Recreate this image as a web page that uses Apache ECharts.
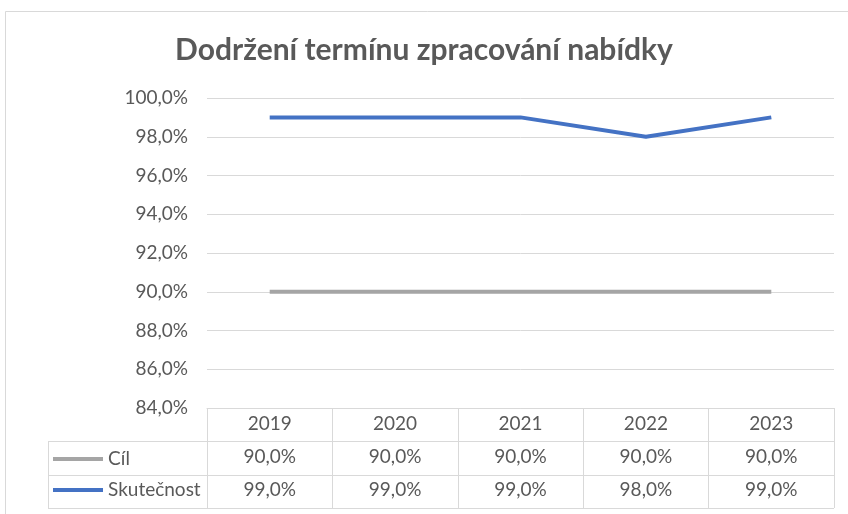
<!DOCTYPE html>
<html>
<head>
<meta charset="utf-8">
<script src="https://cdn.jsdelivr.net/npm/echarts@6/dist/echarts.min.js"></script>
<style>
  html, body { margin: 0; padding: 0; background: #fff; }
  #chart { width: 848px; height: 514px; }
</style>
</head>
<body>
<div id="chart"></div>
<script>
const years = ['2019', '2020', '2021', '2022', '2023'];
const cil = [90, 90, 90, 90, 90];
const skutecnost = [99, 99, 99, 98, 99];
const seriesNames = ['Cíl', 'Skutečnost'];
const seriesColors = ['#A5A5A5', '#4472C4'];

const FONT = 'Lato, "Noto Sans", sans-serif';
const TXT = '#595959';
const LINE = '#D9D9D9';

const fmt = v => v.toFixed(1).replace('.', ',') + '%';

const chart = echarts.init(document.getElementById('chart'));

chart.setOption({
  backgroundColor: '#fff',
  animation: false,
  title: {
    text: 'Dodržení termínu zpracování nabídky',
    left: 'center',
    top: 30,
    textStyle: { color: TXT, fontSize: 30, fontWeight: 'bold', fontFamily: FONT }
  },
  legend: {
    orient: 'vertical',
    left: 53,
    top: 449,
    padding: 0,
    itemWidth: 50,
    itemHeight: 4,
    itemGap: 11,
    icon: 'rect',
    data: seriesNames,
    textStyle: { color: TXT, fontSize: 19, fontFamily: FONT, lineHeight: 20 }
  },
  grid: { left: 207, right: 14, top: 98, bottom: 106 },
  xAxis: {
    type: 'category',
    data: years,
    boundaryGap: true,
    axisLine: { show: true, lineStyle: { color: LINE, width: 1 } },
    axisTick: { show: true, interval: 0, length: 100, lineStyle: { color: LINE } },
    axisLabel: {
      interval: 0,
      margin: 0,
      formatter: (val, i) => `{y|${val}}\n{v|${fmt(cil[i])}}\n{v|${fmt(skutecnost[i])}}`,
      rich: {
        y: { color: TXT, fontSize: 19, fontFamily: FONT, lineHeight: 32 },
        v: { color: TXT, fontSize: 19, fontFamily: FONT, lineHeight: 33 }
      }
    }
  },
  yAxis: {
    type: 'value',
    min: 84,
    max: 100,
    interval: 2,
    axisLine: { show: false },
    axisTick: { show: false },
    axisLabel: { color: TXT, fontSize: 19, fontFamily: FONT, margin: 19, formatter: v => fmt(v) },
    splitLine: { lineStyle: { color: LINE, width: 1 } }
  },
  graphic: [
    { type: 'rect', shape: { x: 5.5, y: 11.5, width: 900, height: 600 }, style: { fill: 'none', stroke: LINE, lineWidth: 1 }, silent: true },
    { type: 'line', shape: { x1: 48, y1: 441.5, x2: 834, y2: 441.5 }, style: { stroke: LINE, lineWidth: 1 } },
    { type: 'line', shape: { x1: 48, y1: 475.5, x2: 834, y2: 475.5 }, style: { stroke: LINE, lineWidth: 1 } },
    { type: 'line', shape: { x1: 48, y1: 508.5, x2: 834, y2: 508.5 }, style: { stroke: LINE, lineWidth: 1 } },
    { type: 'line', shape: { x1: 48.5, y1: 441, x2: 48.5, y2: 509 }, style: { stroke: LINE, lineWidth: 1 } }
  ],
  series: [
    {
      name: seriesNames[0],
      type: 'line',
      data: cil,
      symbol: 'none',
      lineStyle: { color: seriesColors[0], width: 4 },
      itemStyle: { color: seriesColors[0] }
    },
    {
      name: seriesNames[1],
      type: 'line',
      data: skutecnost,
      symbol: 'none',
      lineStyle: { color: seriesColors[1], width: 4 },
      itemStyle: { color: seriesColors[1] }
    }
  ]
});
</script>
</body>
</html>
